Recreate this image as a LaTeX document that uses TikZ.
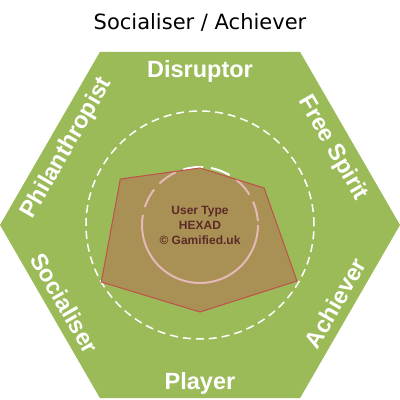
\documentclass[tikz,border=0pt]{standalone}
\usepackage{fontspec}
\setmainfont{DejaVu Sans}
\newfontfamily\labfont{Liberation Sans}
\definecolor{hexgreen}{HTML}{9BBB59}
\definecolor{radarred}{HTML}{C0504D}
\definecolor{centertext}{HTML}{5C2A27}
\begin{document}
\begin{tikzpicture}[x=1pt,y=1pt,
  lab/.style={text=white, font=\labfont\bfseries\fontsize{23.5}{28}\selectfont, anchor=base, inner sep=0pt},
  ctext/.style={text=centertext, font=\labfont\bfseries\fontsize{12}{14}\selectfont, anchor=base, inner sep=0pt},
  titlestyle/.style={text=black, font=\fontsize{21}{25}\selectfont, anchor=base, inner sep=0pt}]
\useasboundingbox (0,0) rectangle (400,400);
\node[titlestyle] (title) at (200,370.7) {Socialiser / Achiever};
\begin{scope}[shift={(200,175)}]
  \fill[hexgreen] (0:200) -- (60:200) -- (120:200) -- (180:200) -- (240:200) -- (300:200) -- cycle;
  \draw[white, line width=1.5pt, dash pattern=on 8pt off 5pt] (0,0) circle[radius=114];
  \draw[white, line width=2pt] (0:58) arc[start angle=0, end angle=-180, radius=58];
  \draw[white, line width=2pt, dash pattern=on 20pt off 8pt, dash phase=24pt] (0:58) arc[start angle=0, end angle=180, radius=58];
  \draw[radarred, fill=radarred, fill opacity=0.4, line width=1pt, line join=miter]
    (90:57) -- (30:74) -- (-30:112) -- (-90:87) -- (-150:114) -- (150:92) -- cycle;
  \node[lab] (dis) at (90:147.5) {Disruptor};
  \node[lab, rotate=-60] (fs) at (30:147.5) {Free Spirit};
  \node[lab, rotate=60] (ach) at (-30:164.5) {Achiever};
  \node[lab] (pla) at (-90:164.5) {Player};
  \node[lab, rotate=-60] (soc) at (-150:164.5) {Socialiser};
  \node[lab, rotate=60] (phi) at (150:147.5) {Philanthropist};
  \node[ctext] (t1) at (0,10) {User Type};
  \node[ctext] (t2) at (0,-5) {HEXAD};
  \node[ctext] (t3) at (0,-19.3) {© Gamified.uk};
\end{scope}
\end{tikzpicture}
\end{document}
